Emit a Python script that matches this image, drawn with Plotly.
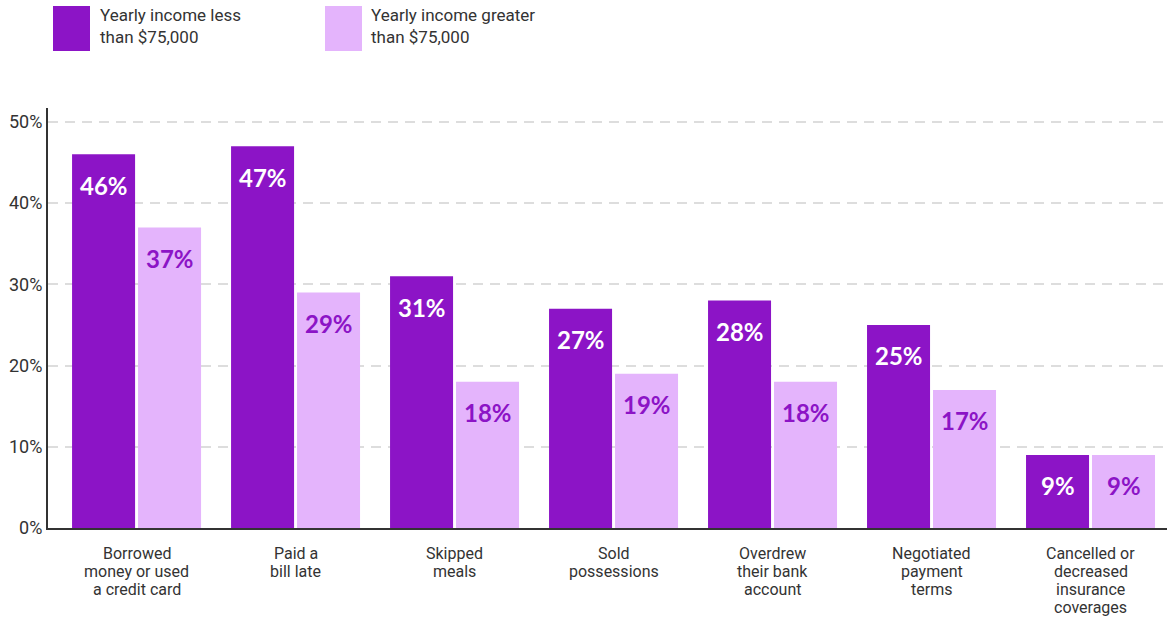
import plotly.graph_objects as go

categories = [
    "Borrowed<br>money or used<br>a credit card",
    "Paid a<br>bill late",
    "Skipped<br>meals",
    "Sold<br>possessions",
    "Overdrew<br>their bank<br>account",
    "Negotiated<br>payment<br>terms",
    "Cancelled or<br>decreased<br>insurance<br>coverages",
]
series_names = ["Yearly income less<br>than $75,000", "Yearly income greater<br>than $75,000"]
less_75k = [46, 47, 31, 27, 28, 25, 9]
greater_75k = [37, 29, 18, 19, 18, 17, 9]
y_ticks = [0, 10, 20, 30, 40, 50]
y_tick_labels = ["0%", "10%", "20%", "30%", "40%", "50%"]

DARK = "#8C14C6"
LIGHT = "#E4B4FC"
TEXT = "#333333"
FONT = "Roboto"
W, H = 1167, 617
ML, MR, MT, MB = 48, 0, 108, 89
PW, PH = W - ML - MR, H - MT - MB


def px_x(p):
    return (p - ML) / PW


def px_y(p):
    return (H - MB - p) / PH


fig = go.Figure()
fig.add_trace(go.Bar(x=categories, y=less_75k, name=series_names[0],
                     marker=dict(color=DARK, line=dict(width=0)), showlegend=False))
fig.add_trace(go.Bar(x=categories, y=greater_75k, name=series_names[1],
                     marker=dict(color=LIGHT, line=dict(width=0)), showlegend=False))

# value labels just inside the top of each bar
annotations = []
for vals, shift, col in ((less_75k, -33, "white"), (greater_75k, 33, DARK)):
    for c, v in zip(categories, vals):
        annotations.append(dict(
            x=c, y=v, xref="x", yref="y", text=f"{v}%", showarrow=False,
            xshift=shift, yshift=-31, yanchor="middle",
            font=dict(family="Lato", size=24, color=col, weight="bold")))

# category labels under the axis, one line at a time for tight line spacing
for c in categories:
    for i, line in enumerate(c.split("<br>")):
        annotations.append(dict(
            x=c, y=0, xref="x", yref="paper", text=line, showarrow=False,
            yanchor="middle", yshift=-(25 + 18.2 * i),
            font=dict(family=FONT, size=16, color=TEXT)))

# legend built from swatches and text
shapes = []
for (x0, x1, tx), name, col in zip(((53, 90, 98), (325, 362, 369)), series_names, (DARK, LIGHT)):
    shapes.append(dict(type="rect", xref="paper", yref="paper",
                       x0=px_x(x0), x1=px_x(x1), y0=px_y(51), y1=px_y(6),
                       fillcolor=col, line=dict(width=0)))
    annotations.append(dict(x=px_x(tx), y=px_y(26), xref="paper", yref="paper",
                            text=name, showarrow=False, xanchor="left", yanchor="middle",
                            align="left",
                            font=dict(family=FONT, size=17, color=TEXT)))

fig.update_layout(
    width=W, height=H,
    margin=dict(l=ML, r=MR, t=MT, b=MB, autoexpand=False),
    paper_bgcolor="white", plot_bgcolor="white",
    barmode="group", bargap=0.17, bargroupgap=0.045,
    annotations=annotations, shapes=shapes,
    font=dict(family=FONT, color=TEXT),
)
fig.update_xaxes(
    range=[-0.557, 6.481], showline=True, linecolor="#333333", linewidth=2,
    showgrid=False, ticks="", showticklabels=False, automargin=False,
)
fig.update_yaxes(
    range=[0, 51.7], tickvals=y_ticks, ticktext=y_tick_labels,
    showline=True, linecolor="#333333", linewidth=2,
    showgrid=True, gridcolor="#DDDDDD", gridwidth=1.5, griddash="10px,7px",
    zeroline=False, ticks="", tickfont=dict(size=18, color=TEXT),
    ticklabelstandoff=0, automargin=False,
)

fig.write_html("out.html")
